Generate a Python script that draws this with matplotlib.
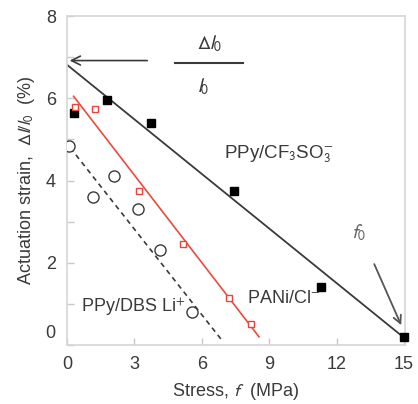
import numpy as np
import matplotlib.pyplot as plt
from matplotlib.transforms import ScaledTranslation

plt.rcParams.update({
    'font.family': ['Liberation Sans', 'DejaVu Sans'],
    'font.size': 13,
    'mathtext.fontset': 'stixsans',
    'text.color': '#3a3a3a',
    'axes.labelcolor': '#3a3a3a',
    'xtick.color': '#c8c8c8',
    'ytick.color': '#c8c8c8',
    'xtick.labelcolor': '#3a3a3a',
    'ytick.labelcolor': '#3a3a3a',
})

# --- data ----------------------------------------------------------------
# PPy/CF3SO3- (filled black squares) and its fit line
cf3_stress = [0.33, 1.8, 3.75, 7.45, 11.3, 15.0]
cf3_strain = [5.65, 5.95, 5.4, 3.75, 1.4, 0.2]
cf3_fit_x = [0.0, 15.0]
cf3_fit_y = [6.82, 0.18]

# PANi/Cl- (open red squares) and its fit line
pani_stress = [0.37, 1.27, 3.2, 5.15, 7.2, 8.2]
pani_strain = [5.8, 5.75, 3.75, 2.45, 1.15, 0.5]
pani_fit_x = [0.3, 8.55]
pani_fit_y = [6.05, 0.2]

# PPy/DBS Li+ (open circles) and its dashed fit line
dbs_stress = [0.1, 1.15, 2.1, 3.15, 4.15, 5.55]
dbs_strain = [4.85, 3.6, 4.1, 3.3, 2.3, 0.8]
dbs_fit_x = [0.15, 6.85]
dbs_fit_y = [4.8, 0.15]

fig = plt.figure(figsize=(4.18, 4.04), dpi=100)
ax = fig.add_axes([0.160, 0.146, 0.809, 0.814])

ax.plot(cf3_fit_x, cf3_fit_y, color='#3a3a3a', lw=1.3, zorder=2)
ax.plot(cf3_stress, cf3_strain, 's', color='black', ms=6, zorder=4,
        clip_on=False)

ax.plot(pani_fit_x, pani_fit_y, color='#ec4a3e', lw=1.2, zorder=2)
ax.plot(pani_stress, pani_strain, 's', mfc='white', mec='#e8453c', ms=4.5,
        mew=1.0, zorder=4)

ax.plot(dbs_fit_x, dbs_fit_y, '--', color='#3a3a3a', lw=1.2,
        dashes=(3, 2.5), zorder=2)
ax.plot(dbs_stress, dbs_strain, 'o', mfc='white', mec='#3a3a3a', ms=8,
        mew=1.0, zorder=4)

# labels inside the plot (sub/superscripts in the body font)
ax.text(7.0, 4.65, r'PPy/CF$_\mathsf{3}$SO$_\mathsf{3}^\mathsf{-}$',
        va='center', ha='left', fontsize=13.5)
ax.text(8.0, 1.12, r'PANi/Cl$^\mathsf{-}$', va='center', ha='left')
ax.text(0.64, 0.9, r'PPy/DBS Li$^\mathsf{+}$', va='center', ha='left')

# Delta l0 / l0 with arrow to the intercept
ax.text(6.36, 7.33, r'$\mathit{\Delta l_0}$', ha='center', va='center',
        fontsize=14)
ax.plot([4.8, 7.83], [6.87, 6.87], color='#3a3a3a', lw=1.5)
ax.text(6.05, 6.28, r'$\mathit{l_0}$', ha='center', va='center', fontsize=14)
ax.annotate('', xy=(0.0, 6.92), xytext=(3.7, 6.92),
            arrowprops=dict(arrowstyle='->', color='#3a3a3a', lw=1.2,
                            mutation_scale=16))

# f0 with arrow to the x intercept
ax.text(12.97, 2.74, r'$\mathit{f_0}$', ha='center', va='center',
        fontsize=14, color='#666666')
ax.annotate('', xy=(14.93, 0.42), xytext=(13.63, 2.03),
            arrowprops=dict(arrowstyle='->', color='#555555', lw=1.3,
                            mutation_scale=14))

ax.set_xlim(0, 15.05)
ax.set_ylim(0, 8)
ax.set_xticks([0, 3, 6, 9, 12, 15])
ax.set_yticks([0, 2, 4, 6, 8])
ax.set_yticks([1, 3, 5, 7], minor=True)
ax.tick_params(which='both', direction='in', length=5, width=1)
ax.tick_params(axis='x', pad=8)
ax.tick_params(axis='y', pad=8)
for s in ax.spines.values():
    s.set_color('#d6d6d6')
    s.set_linewidth(1.2)

# the y "0" label sits a little above its tick in the original
lab0 = ax.get_yticklabels()[0]
lab0.set_transform(lab0.get_transform() +
                   ScaledTranslation(0, 0.14, fig.dpi_scale_trans))

ax.set_xlabel(r'Stress, $\mathit{f}$  (MPa)', labelpad=6)
ax.set_ylabel(r'Actuation strain,  $\mathit{\Delta l/l_0}$  (%)', labelpad=6)

fig.savefig('out.png', dpi=100)
